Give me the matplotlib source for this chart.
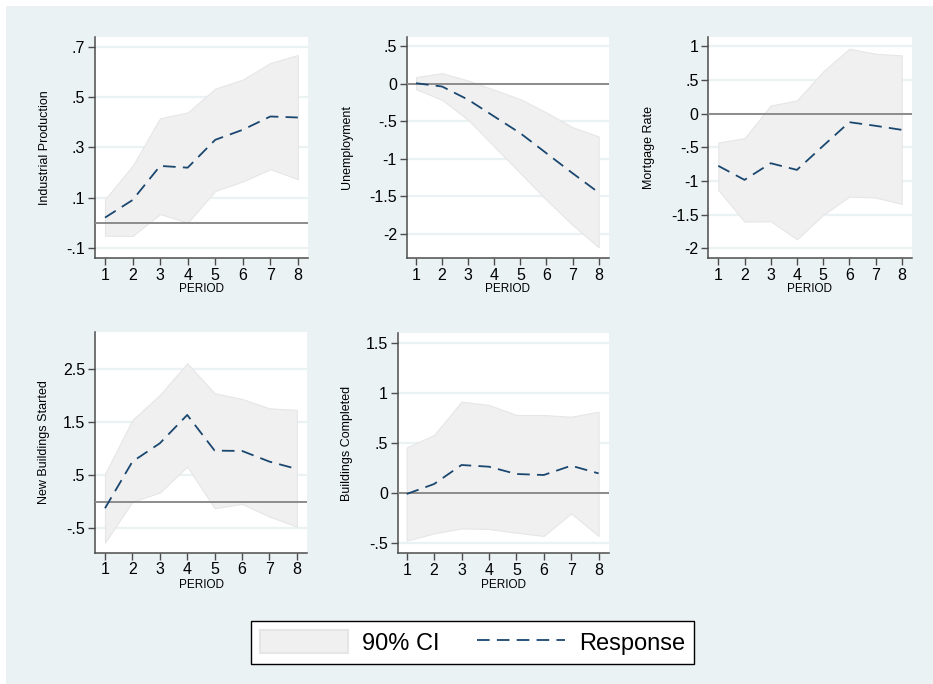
import matplotlib
matplotlib.use("Agg")
import matplotlib.pyplot as plt
from matplotlib.patches import Rectangle, Patch
from matplotlib.lines import Line2D

plt.rcParams["font.family"] = ["Liberation Sans", "DejaVu Sans"]

periods = [1, 2, 3, 4, 5, 6, 7, 8]

titles = ["Industrial Production", "Unemployment", "Mortgage Rate",
          "New Buildings Started", "Buildings Completed"]

ip_resp = [0.020, 0.090, 0.226, 0.219, 0.330, 0.370, 0.423, 0.419]
ip_upper = [0.093, 0.226, 0.416, 0.439, 0.534, 0.570, 0.636, 0.668]
ip_lower = [-0.052, -0.053, 0.034, 0.000, 0.126, 0.164, 0.213, 0.173]

un_resp = [0.010, -0.034, -0.210, -0.434, -0.657, -0.924, -1.190, -1.448]
un_upper = [0.091, 0.144, 0.046, -0.078, -0.203, -0.381, -0.577, -0.700]
un_lower = [-0.069, -0.212, -0.479, -0.834, -1.190, -1.546, -1.880, -2.178]

mr_resp = [-0.775, -0.983, -0.736, -0.835, -0.478, -0.126, -0.180, -0.240]
mr_upper = [-0.428, -0.364, 0.122, 0.197, 0.628, 0.965, 0.891, 0.866]
mr_lower = [-1.132, -1.603, -1.598, -1.866, -1.504, -1.231, -1.246, -1.340]

nb_resp = [-0.123, 0.755, 1.100, 1.634, 0.962, 0.956, 0.755, 0.617]
nb_upper = [0.523, 1.540, 2.010, 2.607, 2.042, 1.935, 1.759, 1.728]
nb_lower = [-0.770, 0.000, 0.172, 0.661, -0.123, -0.041, -0.280, -0.469]

bc_resp = [-0.013, 0.087, 0.277, 0.260, 0.187, 0.177, 0.270, 0.193]
bc_upper = [0.453, 0.577, 0.910, 0.877, 0.777, 0.777, 0.760, 0.810]
bc_lower = [-0.480, -0.407, -0.357, -0.363, -0.400, -0.433, -0.207, -0.433]

yticks = [[-0.1, 0.1, 0.3, 0.5, 0.7],
          [-2, -1.5, -1, -0.5, 0, 0.5],
          [-2, -1.5, -1, -0.5, 0, 0.5, 1],
          [-0.5, 0.5, 1.5, 2.5],
          [-0.5, 0, 0.5, 1, 1.5]]
yticklabels = [["-.1", ".1", ".3", ".5", ".7"],
               ["-2", "-1.5", "-1", "-.5", "0", ".5"],
               ["-2", "-1.5", "-1", "-.5", "0", ".5", "1"],
               ["-.5", ".5", "1.5", "2.5"],
               ["-.5", "0", ".5", "1", "1.5"]]

series = [(ip_resp, ip_upper, ip_lower), (un_resp, un_upper, un_lower),
          (mr_resp, mr_upper, mr_lower), (nb_resp, nb_upper, nb_lower),
          (bc_resp, bc_upper, bc_lower)]

W, H = 933, 684
BG = "#EAF2F3"
CI = "#F0F0F0"
CI_EDGE = "#E6E6E6"
NAVY = "#1A476F"
DASH = (0, (7, 4))

# pixel boxes: left, right, top, bottom
boxes = [(95, 307.5, 36.7, 258),
         (406.7, 609.3, 36.7, 258),
         (708.3, 911.7, 36.7, 258),
         (95, 307, 332.3, 552.7),
         (397.7, 609.3, 332.7, 553.3)]
ylims = [(-0.141, 0.741), (-2.32, 0.63), (-2.144, 1.144), (-0.96, 3.19), (-0.606, 1.6)]
xlims = [(0.636, 8.35), (0.644, 8.407), (0.618, 8.38), (0.635, 8.37), (0.672, 8.39)]
ylabel_x = [45, 346.7, 649, 44, 347.3]
period_y = [289.3, 289.3, 289.3, 585, 585]

fig = plt.figure(figsize=(W / 100, H / 100), dpi=100)
fig.patch.set_facecolor(BG)
fig.patches.append(Rectangle((0, 1 - 5.5 / H), 1, 5.5 / H, transform=fig.transFigure,
                             facecolor="white", edgecolor="none", zorder=0))
fig.patches.append(Rectangle((0, 0), 6 / W, 1, transform=fig.transFigure,
                             facecolor="white", edgecolor="none", zorder=0))

for i, (resp, up, lo) in enumerate(series):
    l, r, t, b = boxes[i]
    ax = fig.add_axes([l / W, 1 - b / H, (r - l) / W, (b - t) / H])
    ax.set_facecolor("white")
    for yv in yticks[i]:
        ax.axhline(yv, color=BG, lw=1.6, zorder=1)
    ax.fill_between(periods, lo, up, facecolor=CI, edgecolor=CI_EDGE, lw=0.8, zorder=2)
    ax.axhline(0, color="#8C8C8C", lw=1.4, zorder=3)
    ax.plot(periods, resp, color=NAVY, lw=1.3, ls=DASH, zorder=4)
    ax.set_xlim(*xlims[i])
    ax.set_ylim(*ylims[i])
    ax.set_xticks(periods)
    ax.set_xticklabels([str(p) for p in periods], fontsize=11.5)
    ax.set_yticks(yticks[i])
    ax.set_yticklabels(yticklabels[i], fontsize=11.5)
    for s in ["top", "right"]:
        ax.spines[s].set_visible(False)
    for s in ["left", "bottom"]:
        ax.spines[s].set_color("#4D4D4D")
        ax.spines[s].set_linewidth(1.1)
    ax.tick_params(axis="both", colors="#4D4D4D", labelcolor="black",
                   length=5, width=1.0, pad=2)
    fig.text(ylabel_x[i] / W, 1 - (t + b) / 2 / H, titles[i], rotation=90,
             ha="center", va="center", fontsize=9)
    fig.text((l + r) / 2 / W, 1 - period_y[i] / H, "PERIOD",
             ha="center", va="center", fontsize=8.5)

handles = [Patch(facecolor=CI, edgecolor=CI_EDGE, lw=1.5),
           Line2D([0], [0], color=NAVY, lw=1.3, ls=DASH)]
leg = fig.legend(handles, ["90% CI", "Response"], loc="center",
                 bbox_to_anchor=(472.5 / W, 1 - 642.5 / H), ncol=2, fontsize=17,
                 frameon=True, fancybox=False, edgecolor="black", facecolor="white",
                 framealpha=1, handlelength=3.73, handleheight=1.1, columnspacing=1.6,
                 borderpad=0.4, handletextpad=0.58, borderaxespad=0)
leg.get_frame().set_linewidth(1.0)

fig.savefig("out.png", dpi=100, facecolor=fig.get_facecolor())
